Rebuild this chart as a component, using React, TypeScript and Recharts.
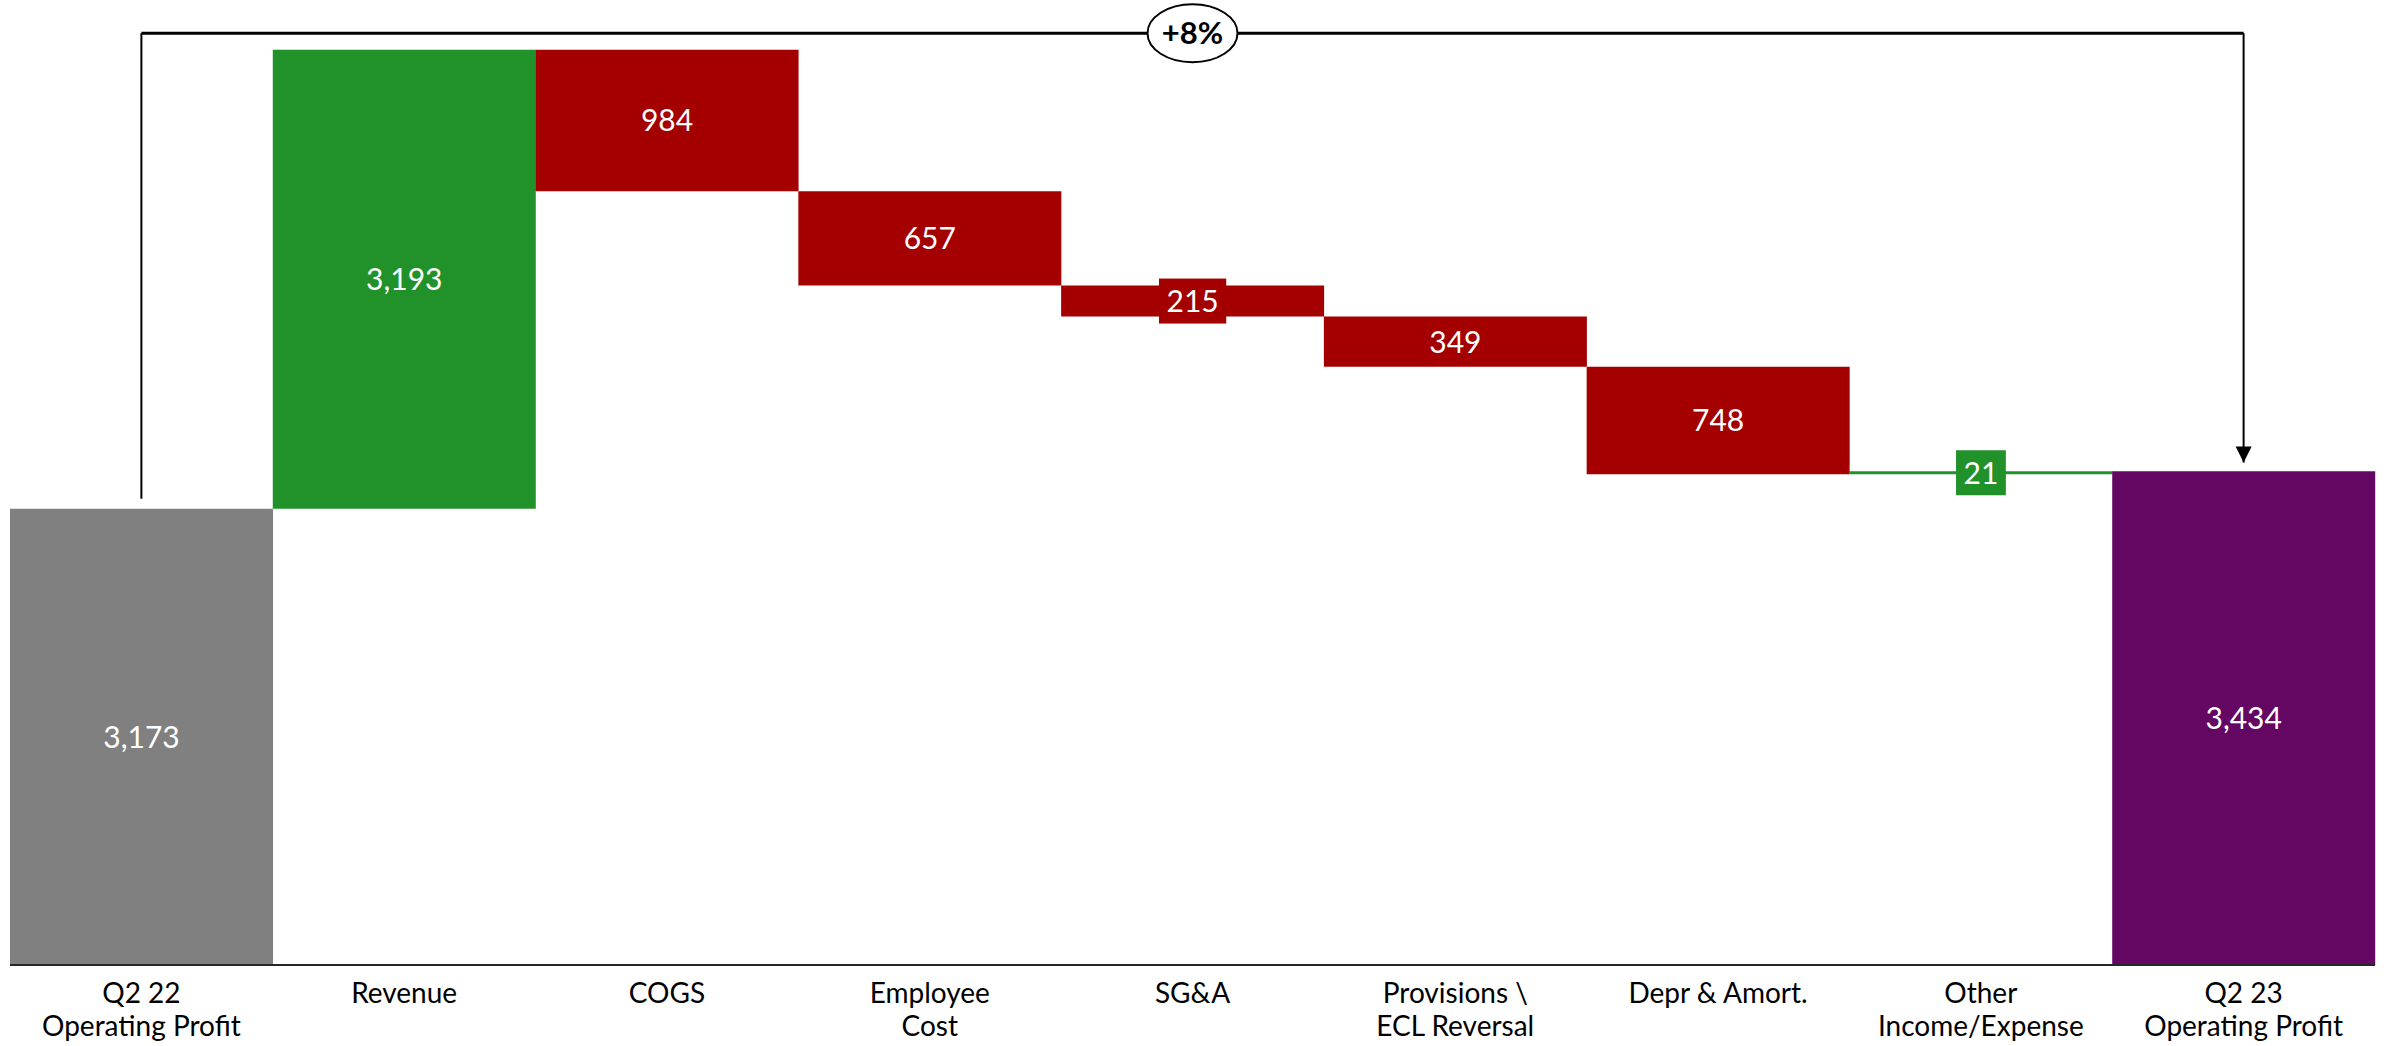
import React from "react";
import {
  BarChart,
  Bar,
  XAxis,
  YAxis,
  Cell,
  LabelList,
  ReferenceLine,
  ReferenceDot,
} from "recharts";

// ─── Data ────────────────────────────────────────────────────────────────────

const categories = [
  "Q2 22\nOperating Profit",
  "Revenue",
  "COGS",
  "Employee\nCost",
  "SG&A",
  "Provisions \\\nECL Reversal",
  "Depr & Amort.",
  "Other\nIncome/Expense",
  "Q2 23\nOperating Profit",
];

const deltas = [3173, 3193, -984, -657, -215, -349, -748, 21, 3434];

const isTotal = [true, false, false, false, false, false, false, false, true];

const yTicksDomain = [0, 6600];

// bracket annotation levels (value units)
const BRACKET_Y = 6480;
const BRACKET_GAP_START = 70;
const BRACKET_GAP_END = 60;

const COLORS = {
  start: "#808080",
  end: "#630763",
  up: "#21922A",
  down: "#A40000",
};

const FONT = "Lato, Carlito, 'Open Sans', sans-serif";

// ─── Waterfall rows ──────────────────────────────────────────────────────────

type Row = { name: string; base: number; size: number; color: string };

const rows: Row[] = (() => {
  let run = 0;
  return categories.map((name, i) => {
    const v = deltas[i];
    let base = 0;
    let size = 0;
    if (isTotal[i]) {
      base = 0;
      size = v;
      run = v;
    } else if (v >= 0) {
      base = run;
      size = v;
      run += v;
    } else {
      run += v;
      base = run;
      size = -v;
    }
    const color =
      i === 0
        ? COLORS.start
        : i === categories.length - 1
          ? COLORS.end
          : v >= 0
            ? COLORS.up
            : COLORS.down;
    return { name, base, size, color };
  });
})();

const startTotal = deltas[0];
const endTotal = deltas[deltas.length - 1];
const pctChange = Math.round(((endTotal - startTotal) / startTotal) * 100);
const pctLabel = `${pctChange >= 0 ? "+" : ""}${pctChange}%`;

// ─── Pieces ──────────────────────────────────────────────────────────────────

const CategoryTick = (props: any) => {
  const { x, y, payload } = props;
  const lines = String(payload.value).split("\n");
  return (
    <text x={x} y={y} textAnchor="middle" fontFamily={FONT} fontSize={28} fill="#000">
      {lines.map((line, i) => (
        <tspan key={i} x={x} y={y + 38 + i * 33}>
          {line}
        </tspan>
      ))}
    </text>
  );
};

const ValueLabel = (props: any) => {
  const { x, y, width, height, value, index } = props;
  const cx = Number(x) + Number(width) / 2;
  const cy = Number(y) + Number(height) / 2;
  const text = Number(value).toLocaleString("en-US");
  const fontSize = 30;
  const small = Math.abs(Number(height)) < 45;
  const boxW = text.length * fontSize * 0.58 + 15;
  const boxH = 45;
  return (
    <g>
      {small ? (
        <rect
          x={cx - boxW / 2}
          y={cy - boxH / 2}
          width={boxW}
          height={boxH}
          fill={rows[index].color}
        />
      ) : null}
      <text
        x={cx}
        y={cy + 11}
        textAnchor="middle"
        fontFamily={FONT}
        fontSize={fontSize}
        fill="#fff"
      >
        {text}
      </text>
    </g>
  );
};

const PctBadge = (props: any) => {
  const { cx, cy } = props;
  return (
    <g>
      <ellipse cx={cx} cy={cy} rx={45} ry={29} fill="#fff" stroke="#000" strokeWidth={2} />
      <text
        x={cx}
        y={cy + 11}
        textAnchor="middle"
        fontFamily={FONT}
        fontWeight={700}
        fontSize={31}
        fill="#000"
      >
        {pctLabel}
      </text>
    </g>
  );
};

const ArrowHead = (props: any) => {
  const { cx, cy } = props;
  return <polygon points={`${cx - 8},${cy - 16} ${cx + 8},${cy - 16} ${cx},${cy}`} fill="#000" />;
};

// ─── Chart ───────────────────────────────────────────────────────────────────

export default function App() {
  const first = categories[0];
  const last = categories[categories.length - 1];
  const mid = categories[Math.floor(categories.length / 2)];
  return (
    <div style={{ position: "absolute", left: 0, top: 0, background: "#fff" }}>
      <BarChart
        width={2387}
        height={1046}
        data={rows}
        margin={{ top: 16, right: 12, bottom: 0, left: 10 }}
        barCategoryGap={0}
        barGap={0}
      >
        <XAxis
          dataKey="name"
          interval={0}
          tickLine={false}
          tickSize={0}
          tickMargin={0}
          height={81}
          axisLine={{ stroke: "#262626", strokeWidth: 2 }}
          tick={<CategoryTick />}
        />
        <YAxis hide type="number" domain={yTicksDomain} />
        <Bar dataKey="base" stackId="w" fill="transparent" isAnimationActive={false} />
        <Bar dataKey="size" stackId="w" isAnimationActive={false}>
          {rows.map((r, i) => (
            <Cell key={`c-${i}`} fill={r.color} />
          ))}
          <LabelList dataKey="size" content={<ValueLabel />} />
        </Bar>
        <ReferenceLine
          segment={[
            { x: first, y: startTotal + BRACKET_GAP_START },
            { x: first, y: BRACKET_Y },
          ]}
          stroke="#000"
          strokeWidth={2}
        />
        <ReferenceLine
          segment={[
            { x: first, y: BRACKET_Y },
            { x: last, y: BRACKET_Y },
          ]}
          stroke="#000"
          strokeWidth={3}
        />
        <ReferenceLine
          segment={[
            { x: last, y: BRACKET_Y },
            { x: last, y: endTotal + BRACKET_GAP_END },
          ]}
          stroke="#000"
          strokeWidth={2}
        />
        <ReferenceDot x={last} y={endTotal + BRACKET_GAP_END} shape={<ArrowHead />} />
        <ReferenceDot x={mid} y={BRACKET_Y} shape={<PctBadge />} />
      </BarChart>
    </div>
  );
}
